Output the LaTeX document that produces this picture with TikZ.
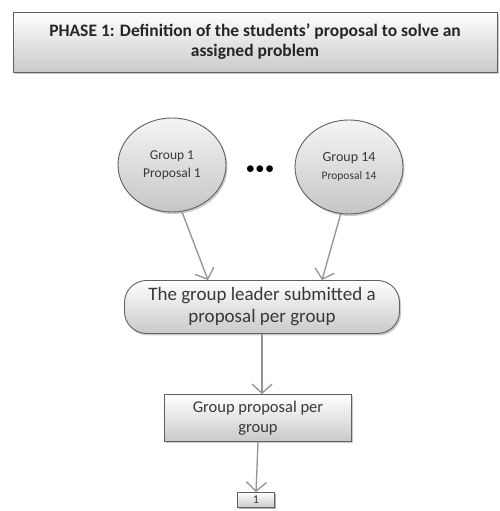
\documentclass[tikz,border=0pt]{standalone}
\usepackage{fontspec}
\setmainfont{Carlito}
\usetikzlibrary{shadows,arrows.meta,calc,shapes.geometric,shapes.symbols}
\begin{document}
\begin{tikzpicture}[x=1pt,y=1pt,
  shadedbox/.style={draw=gray!75!black, line width=0.9pt, top color=white, bottom color=gray!42,
    drop shadow={shadow xshift=1.5pt, shadow yshift=-2pt, opacity=0.5, fill=gray!80},
    align=center, text=black!78, inner sep=2pt},
  circ/.style={shadedbox, ellipse, minimum width=108pt, minimum height=94pt, inner sep=0pt,
    top color=gray!8, bottom color=gray!45},
  conn/.style={draw=gray!85, line width=1.3pt, -{Straight Barb[length=9pt,width=20pt,line width=1.3pt]}}
]
\useasboundingbox (0,0) rectangle (499,511);
\fill[white] (0,0) rectangle (499,511);
\node[shadedbox, minimum width=484pt, minimum height=60pt, font=\bfseries\fontsize{17.5}{20}\selectfont, text=black!85]
  (phase) at (255,469) {PHASE 1: Definition of the students’ proposal to solve an\\assigned problem};
\node[circ, font=\fontsize{13.5}{18}\selectfont] (c1) at (172,346) {Group 1\\Proposal 1};
\node[circ, font=\fontsize{14}{18}\selectfont] (c2) at (349,344) {Group 14\\{\fontsize{11.5}{13}\selectfont Proposal 14}};
\node[font=\fontsize{18}{18}\selectfont, text=black] (dots) at (260,341) {$\bullet\!\bullet\!\bullet$};
\node[shadedbox, rounded corners=22pt, minimum width=275pt, minimum height=53pt,
  font=\fontsize{19}{22}\selectfont] (rr) at (262,204) {The group leader submitted a\\proposal per group};
\node[shadedbox, minimum width=187pt, minimum height=47pt, font=\fontsize{16.5}{20}\selectfont]
  (gp) at (258,93) {Group proposal per\\group};
\node[shadedbox, minimum width=37pt, minimum height=15pt, inner sep=0pt, font=\fontsize{12}{12}\selectfont,
  drop shadow={shadow xshift=1pt, shadow yshift=-1.5pt, opacity=0.5, fill=gray!80}]
  (one) at (256,11) {1};
\draw[conn] (c1.-78) -- ($(rr.north)+(-54,0)$);
\draw[conn] (c2.-100) -- ($(rr.north)+(60,0)$);
\draw[conn] (rr.south) -- ($(gp.north)+(4,0)$);
\draw[conn] (gp.south) -- (one.north);
\end{tikzpicture}
\end{document}
